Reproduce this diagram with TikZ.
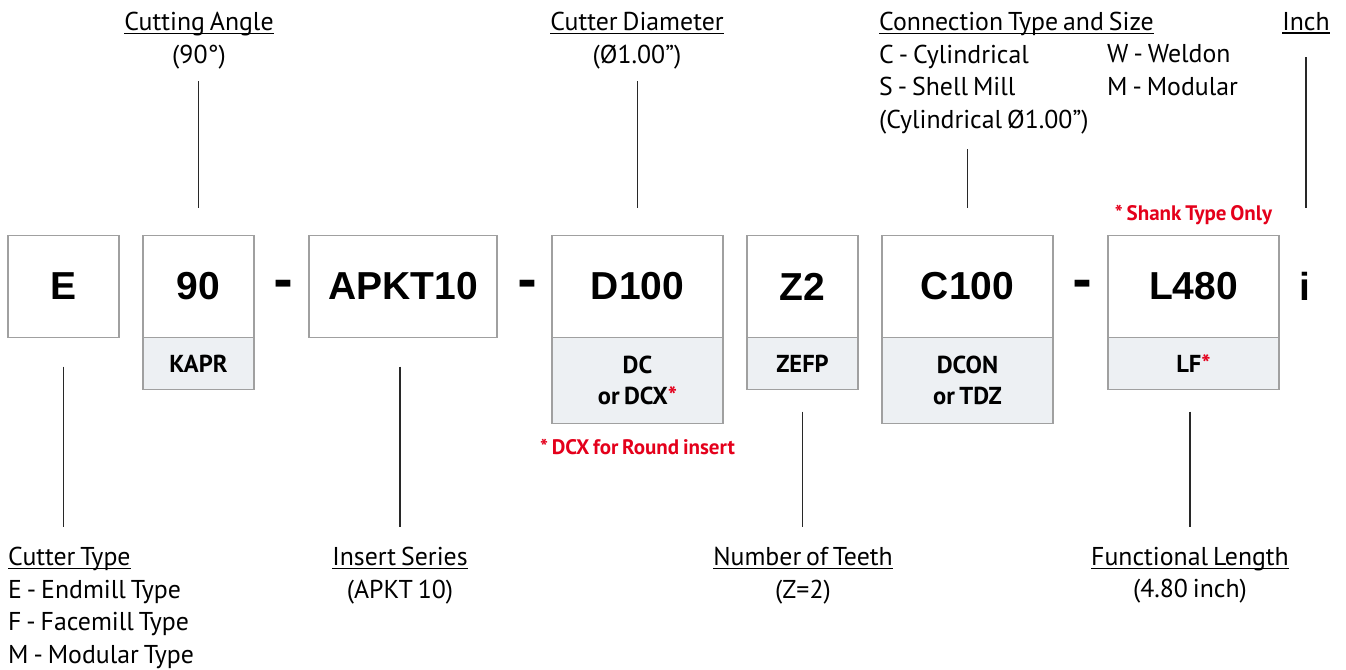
\documentclass[tikz,border=0pt]{standalone}
\usepackage{fontspec}
\setmainfont{PT Sans}[WordSpace=0.72]
\newfontfamily\codefont{Liberation Sans}
\newfontfamily\dashfont{DejaVu Sans}
\usepackage{tikz}
\usetikzlibrary{positioning, calc}
\definecolor{notered}{RGB}{228,0,27}
\definecolor{boxgray}{RGB}{160,160,160}
\definecolor{subfill}{RGB}{237,240,243}
\definecolor{leadcol}{RGB}{40,40,40}
\newcommand{\hdr}[1]{\setbox0\hbox{#1}\rlap{\rule[-3.5pt]{\wd0}{1.3pt}}\box0}
\newcommand{\redstar}{\textcolor{notered}{*}}

\tikzset{
  codebox/.style={draw=boxgray, line width=1.5pt, fill=white, minimum height=102pt, inner sep=0pt, outer sep=0pt, font=\codefont\bfseries\fontsize{39}{40}\selectfont},
  subbox/.style={draw=boxgray, line width=1.5pt, fill=subfill, anchor=north, inner sep=0pt, outer sep=0pt, align=center, font=\bfseries\fontsize{24.5}{31.5}\selectfont},
  lbltext/.style={inner sep=0pt, align=center, anchor=north, font=\fontsize{25.8}{32.5}\selectfont},
  note/.style={text=notered, inner sep=0pt, font=\bfseries\fontsize{21}{24}\selectfont},
  sepmark/.style={inner sep=0pt, font=\dashfont\bfseries\fontsize{48}{50}\selectfont},
  lead/.style={leadcol, line width=1.3pt}
}

\begin{document}
\begin{tikzpicture}[x=1pt, y=-1pt]
  \useasboundingbox (0,0) rectangle (1346,669);

  \node[codebox, minimum width=111pt] (bE) at (63.5,286.5) {E};
  \node[codebox, minimum width=111pt] (b90) at (198.5,286.5) {90};
  \node[subbox, minimum width=111pt, minimum height=52pt] (s90) at (b90.south) {KAPR};
  \node[sepmark] (d1) at (283,289) {-};
  \node[codebox, minimum width=188pt] (bAPKT) at (403,286.5) {APKT10};
  \node[sepmark] (d2) at (527,289) {-};
  \node[codebox, minimum width=171pt] (bD) at (637.5,286.5) {D100};
  \node[subbox, minimum width=171pt, minimum height=86pt] (sD) at (bD.south) {DC\\or DCX\redstar};
  \node[note, below=15pt of sD] (dcxNote) {* DCX for Round insert};
  \node[codebox, minimum width=111pt] (bZ) at (802.5,286.5) {Z2};
  \node[subbox, minimum width=111pt, minimum height=52pt] (sZ) at (bZ.south) {ZEFP};
  \node[codebox, minimum width=171pt] (bC) at (967.5,286.5) {C100};
  \node[subbox, minimum width=171pt, minimum height=86pt] (sC) at (bC.south) {DCON\\or TDZ};
  \node[sepmark] (d3) at (1082,289) {-};
  \node[codebox, minimum width=171pt] (bL) at (1193.5,286.5) {L480};
  \node[subbox, minimum width=171pt, minimum height=52pt] (sL) at (bL.south) {LF\redstar};
  \node[note, above=10pt of bL] (shankNote) {* Shank Type Only};
  \node[inner sep=0pt, font=\codefont\bfseries\fontsize{39}{40}\selectfont] (inchMark) at (1305,286.5) {i};

  \node[lbltext] (angLbl) at (199,12) {\hdr{Cutting Angle}\\(90°)};
  \node[lbltext] (diaLbl) at (637,12) {\hdr{Cutter Diameter}\\(Ø1.00”)};
  \node[lbltext, align=left, anchor=north west] (connLbl) at (879,12) {\hdr{Connection Type and Size}\\C - Cylindrical\\S - Shell Mill\\(Cylindrical Ø1.00”)};
  \node[lbltext, align=left, anchor=north west] (connLblB) at (1107,44.5) {W - Weldon\\M - Modular};
  \node[lbltext] (inchLbl) at (1306,12) {\hdr{Inch}};

  \node[lbltext, align=left, anchor=north west] (typeLbl) at (8,547) {\hdr{Cutter Type}\\E - Endmill Type\\F - Facemill Type\\M - Modular Type};
  \node[lbltext] (seriesLbl) at (400,547) {\hdr{Insert Series}\\(APKT 10)};
  \node[lbltext] (teethLbl) at (803,547) {\hdr{Number of Teeth}\\(Z=2)};
  \node[lbltext] (lenLbl) at (1190,547) {\hdr{Functional Length}\\(4.80 inch)};

  \draw[lead] ([yshift=28pt]b90.north) -- ([yshift=-12pt]b90.north |- angLbl.south);
  \draw[lead] ([yshift=28pt]bD.north) -- ([yshift=-12pt]bD.north |- diaLbl.south);
  \draw[lead] ([yshift=28pt]bC.north) -- ([yshift=-15pt]bC.north |- connLbl.south);
  \draw[lead] ([yshift=28pt]bL.north -| inchLbl.south) -- ([yshift=-23pt]inchLbl.south);

  \draw[lead] ([yshift=-29pt]bE.south) -- ([yshift=20pt]bE.south |- typeLbl.north);
  \draw[lead] ([yshift=-29pt]bAPKT.south -| seriesLbl.north) -- ([yshift=20pt]seriesLbl.north);
  \draw[lead] ([yshift=-22pt]sZ.south) -- ([yshift=20pt]sZ.south |- teethLbl.north);
  \draw[lead] ([yshift=-22pt]sL.south -| lenLbl.north) -- ([yshift=20pt]lenLbl.north);
\end{tikzpicture}
\end{document}
